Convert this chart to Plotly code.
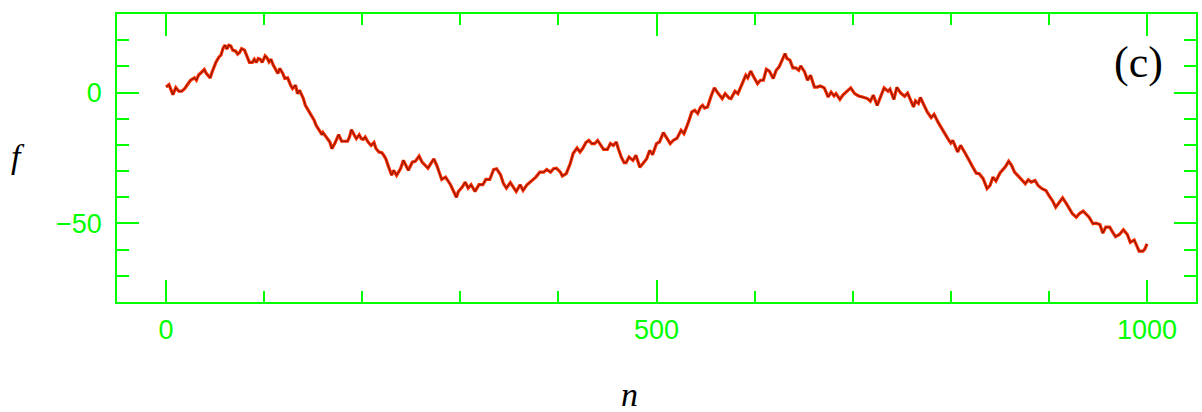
import plotly.graph_objects as go

# Sampled path f(n)
n_values = [
    0, 3, 7, 10, 13, 16, 19, 22, 25, 29, 31, 33, 37, 39, 41, 43, 45, 47, 51, 54,
    56, 58, 60, 62, 64, 66, 68, 71, 73, 75, 77, 80, 82, 85, 88, 90, 92, 94, 96, 98,
    101, 103, 105, 107, 109, 112, 114, 116, 119, 121, 124, 127, 129, 132, 134, 136, 140, 142, 145, 148,
    151, 153, 156, 159, 160, 163, 164, 167, 169, 172, 176, 179, 181, 185, 187, 189, 192, 194, 197, 199,
    201, 203, 206, 209, 212, 214, 217, 220, 222, 224, 227, 230, 232, 235, 239, 242, 247, 251, 254, 258,
    261, 267, 273, 276, 281, 285, 290, 296, 298, 302, 305, 308, 311, 315, 319, 323, 326, 330, 334, 337,
    341, 344, 347, 351, 354, 357, 361, 364, 368, 373, 377, 381, 385, 388, 392, 395, 398, 402, 404, 408,
    412, 415, 419, 422, 425, 428, 431, 434, 437, 440, 443, 446, 450, 453, 456, 459, 461, 464, 467, 469,
    472, 476, 479, 483, 486, 490, 493, 496, 500, 503, 507, 510, 514, 517, 521, 525, 528, 532, 536, 539,
    542, 545, 547, 549, 552, 556, 559, 563, 567, 570, 574, 576, 580, 583, 587, 591, 593, 596, 599, 603,
    606, 609, 612, 615, 619, 622, 625, 628, 631, 633, 636, 639, 642, 645, 647, 651, 654, 657, 661, 664,
    667, 671, 675, 678, 681, 683, 687, 690, 694, 698, 702, 706, 710, 715, 718, 721, 725, 728, 732, 736,
    738, 742, 745, 749, 753, 756, 759, 762, 764, 767, 769, 773, 776, 780, 783, 787, 790, 793, 797, 800,
    802, 807, 810, 814, 818, 822, 826, 829, 833, 837, 840, 843, 846, 850, 853, 856, 859, 862, 865, 869,
    872, 876, 879, 882, 886, 889, 893, 897, 900, 904, 907, 911, 914, 918, 921, 924, 928, 931, 935, 938,
    941, 945, 948, 952, 955, 958, 962, 965, 968, 972, 976, 980, 983, 987, 989, 992, 996, 998, 1000,
]
f_values = [
    2.1, 3.0, -0.8, 1.9, 0.5, 0.5, 1.5, 3.4, 4.7, 5.6, 4.7, 6.6, 7.9, 8.8, 7.3, 6.6, 5.6, 7.9, 11.7, 13.6,
    14.3, 16.8, 18.1, 16.6, 18.1, 17.8, 16.2, 15.8, 14.7, 15.3, 16.8, 16.2, 14.3, 11.5, 11.5, 12.7, 11.5, 13.0, 12.7, 11.5,
    14.0, 13.2, 11.7, 12.7, 10.7, 8.5, 7.3, 9.2, 7.3, 5.4, 5.6, 2.8, 1.5, 2.8, -0.4, 0.9, -2.3, -4.9, -6.8, -8.7,
    -10.6, -12.5, -14.4, -16.1, -15.3, -17.0, -17.4, -18.9, -21.4, -19.5, -16.1, -18.6, -18.6, -18.6, -17.0, -14.2, -16.3, -17.6, -16.1, -17.6,
    -17.9, -17.0, -18.9, -20.2, -19.1, -21.4, -22.7, -23.0, -24.0, -25.3, -28.5, -31.6, -29.7, -31.6, -29.1, -25.9, -29.7, -26.6, -26.3, -24.3,
    -26.6, -28.9, -25.3, -27.8, -33.2, -32.3, -35.2, -40.0, -37.8, -36.1, -34.2, -36.5, -35.2, -37.8, -35.2, -35.2, -33.2, -33.2, -29.4, -29.1,
    -31.4, -34.8, -36.5, -34.4, -36.1, -37.8, -35.2, -37.4, -35.2, -33.6, -32.3, -30.4, -30.4, -29.4, -30.4, -29.1, -28.9, -30.4, -31.9, -31.0,
    -27.2, -23.3, -21.2, -22.7, -21.2, -19.1, -18.3, -19.5, -19.5, -18.3, -19.9, -21.7, -21.7, -19.5, -20.2, -18.9, -21.4, -24.6, -26.8, -26.8,
    -24.6, -25.9, -24.0, -28.5, -27.2, -25.3, -22.1, -23.7, -19.5, -18.9, -15.3, -17.0, -19.5, -18.3, -17.4, -14.4, -15.7, -11.9, -7.4, -6.8,
    -8.0, -5.5, -4.9, -5.9, -5.5, -1.0, 1.8, -0.4, -2.3, -0.4, -2.1, -2.3, 0.5, -0.4, 3.4, 6.6, 5.6, 8.2, 6.0, 3.4,
    4.7, 4.7, 8.9, 8.2, 5.4, 8.5, 9.8, 12.7, 14.9, 13.0, 12.4, 9.4, 9.4, 8.5, 10.2, 7.9, 4.7, 6.6, 2.1, 2.1,
    2.5, 1.8, -1.7, 0.2, -1.3, -0.4, -2.6, -1.0, 0.5, 1.8, -0.4, -1.3, -1.7, -2.3, -3.3, -1.0, -4.9, -1.7, 1.8, 0.5,
    1.3, -2.6, 2.0, -0.2, -1.4, -0.2, -3.2, -5.5, -3.2, -4.2, -1.9, -5.2, -7.4, -9.6, -8.3, -11.3, -13.2, -15.5, -17.6, -19.3,
    -18.3, -22.7, -20.2, -22.7, -25.3, -28.5, -30.8, -31.0, -32.9, -36.7, -35.5, -32.3, -33.8, -30.8, -29.5, -28.2, -26.2, -27.8, -30.4, -32.0,
    -33.3, -34.8, -33.3, -34.2, -33.6, -35.5, -36.7, -37.4, -39.3, -41.5, -43.8, -41.5, -40.2, -42.5, -44.4, -46.3, -47.6, -46.3, -45.3, -46.6,
    -47.6, -50.1, -49.9, -50.4, -53.7, -51.4, -51.4, -53.3, -55.0, -54.2, -52.4, -54.2, -57.2, -56.3, -57.8, -60.6, -60.6, -59.7, -57.8,
]

x_tick_vals = [0, 500, 1000]
y_tick_vals = [-50, 0]

GREEN = "#00ff00"
RED = "#ff3000"

fig = go.Figure()
# wide red stroke with a thin dark core
fig.add_trace(go.Scatter(x=n_values, y=f_values, mode="lines",
                         line=dict(color=RED, width=3.2), hoverinfo="skip"))
fig.add_trace(go.Scatter(x=n_values, y=f_values, mode="lines",
                         line=dict(color="#200000", width=0.6)))

axis_common = dict(
    showgrid=False, zeroline=False,
    showline=True, linecolor=GREEN, linewidth=1.5, mirror="allticks",
    ticks="inside", tickcolor=GREEN, tickwidth=1.5, ticklen=22,
    tickfont=dict(family="Liberation Sans", size=27, color=GREEN),
)

fig.update_layout(
    width=1202, height=412,
    margin=dict(l=117, r=4, t=14, b=110),
    paper_bgcolor="white", plot_bgcolor="white",
    showlegend=False,
    xaxis=dict(range=[-50, 1050], tickvals=x_tick_vals,
               minor=dict(dtick=100, tick0=0, ticks="inside", ticklen=11,
                          tickcolor=GREEN, tickwidth=1.5),
               ticklabelstandoff=3, **axis_common),
    yaxis=dict(range=[-80, 30], tickvals=y_tick_vals,
               minor=dict(dtick=10, tick0=0, ticks="inside", ticklen=12,
                          tickcolor=GREEN, tickwidth=1.5),
               ticklabelstandoff=8, **axis_common),
    annotations=[
        dict(text="f", xref="paper", yref="paper", x=-0.0916, y=0.506,
             xanchor="center", yanchor="middle", showarrow=False,
             font=dict(family="Liberation Serif", size=34, color="black", style="italic")),
        dict(text="n", xref="paper", yref="paper", x=0.4746, y=-0.322,
             xanchor="center", yanchor="middle", showarrow=False,
             font=dict(family="Liberation Serif", size=34, color="black", style="italic")),
        dict(text="(c)", xref="paper", yref="paper", x=0.947, y=0.83,
             xanchor="center", yanchor="middle", showarrow=False,
             font=dict(family="Liberation Serif", size=44, color="black")),
    ],
)

fig.write_html("out.html")
